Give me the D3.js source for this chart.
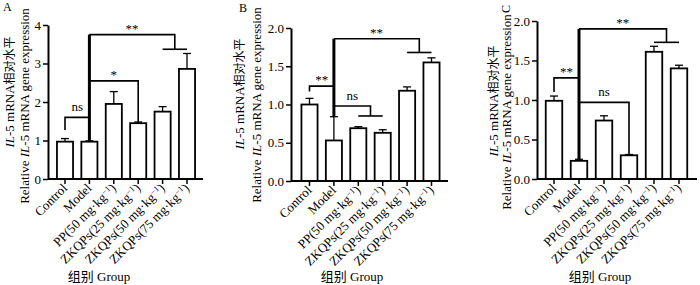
<!DOCTYPE html>
<html>
<head>
<meta charset="utf-8">
<script src="https://cdn.jsdelivr.net/npm/d3@7"></script>
<style>
  body { margin: 0; background: #fff; }
  svg text { font-family: "Liberation Serif", "Times New Roman", "Noto Sans CJK SC", serif; fill: #000; }
</style>
</head>
<body>
<svg id="chart" width="700" height="285"></svg>
<script>
const groups = ["Control", "Model", "PP(50 mg·kg^-1)", "ZKQPs(25 mg·kg^-1)", "ZKQPs(50 mg·kg^-1)", "ZKQPs(75 mg·kg^-1)"];

const valuesA = [0.97, 0.97, 1.95, 1.45, 1.75, 2.86];
const sdA     = [0.08, 0.02, 0.32, 0.03, 0.13, 0.40];
const valuesB = [1.00, 0.53, 0.69, 0.63, 1.18, 1.55];
const sdB     = [0.08, 0.31, 0.02, 0.04, 0.05, 0.06];
const valuesC = [0.99, 0.23, 0.74, 0.30, 1.61, 1.40];
const sdC     = [0.06, 0.02, 0.06, 0.01, 0.07, 0.04];

const ticksA = [0, 1, 2, 3, 4];
const ticksBC = [0, 0.5, 1.0, 1.5, 2.0];

// significance brackets: a -> b (index or pair of indices), bar height y, leg ends
const bracketsA = [
  { a: 0, b: 1, y: 1.60, la: 1.27, lb: null, text: "ns" },
  { a: 1, b: 3, y: 2.55, la: null, lb: 1.48, text: "*" },
  { a: 1, b: [4, 5], y: 3.75, la: null, lb: 3.37, text: "**" }
];
const bracketsB = [
  { a: 0, b: 1, y: 1.24, la: 1.17, lb: null, text: "**" },
  { a: 1, b: [2, 3], y: 0.98, la: null, lb: 0.85, text: "ns" },
  { a: 1, b: [4, 5], y: 1.86, la: null, lb: 1.68, text: "**" }
];
const bracketsC = [
  { a: 0, b: 1, y: 1.28, la: 1.10, lb: null, text: "**" },
  { a: 1, b: 3, y: 0.97, la: null, lb: 0.31, text: "ns" },
  { a: 1, b: [4, 5], y: 1.90, la: null, lb: 1.73, text: "**" }
];

const panels = [
  { letter: "A", values: valuesA, sd: sdA, max: 4, ticks: ticksA, fmt: d3.format("d"), brackets: bracketsA,
    left: 48, right: 203, top: 25, bottom: 179, x0: 52.8, x1: 199.2,
    lab1X: 14, lab2X: 29, lab1Y: 92, lab2Y: 106, groupX: 99 },
  { letter: "B", values: valuesB, sd: sdB, max: 2, ticks: ticksBC, fmt: d3.format(".1f"), brackets: bracketsB,
    left: 291, right: 448, top: 28, bottom: 181, x0: 297.3, x1: 443.7,
    lab1X: 244, lab2X: 261, lab1Y: 94, lab2Y: 105, groupX: 352 },
  { letter: "C", values: valuesC, sd: sdC, max: 2, ticks: ticksBC, fmt: d3.format(".1f"), brackets: bracketsC,
    left: 537, right: 697, top: 21, bottom: 179, x0: 541.5, x1: 691.5,
    lab1X: 498, lab2X: 511, lab1Y: 101, lab2Y: 112, groupX: 600 }
];

const svg = d3.select("#chart");

panels.forEach(p => {
  const g = svg.append("g");

  const x = d3.scaleBand()
    .domain(groups)
    .range([p.x0, p.x1])
    .paddingInner(0.34)
    .paddingOuter(0.17);

  const y = d3.scaleLinear()
    .domain([0, p.max])
    .range([p.bottom, p.top]);

  const cx = i => x(groups[i]) + x.bandwidth() / 2;
  const bx = b => Array.isArray(b) ? (cx(b[0]) + cx(b[1])) / 2 : cx(b);

  // bars
  g.selectAll(".bar")
    .data(p.values)
    .enter()
    .append("rect")
    .attr("x", (d, i) => x(groups[i]))
    .attr("y", d => y(d))
    .attr("width", x.bandwidth())
    .attr("height", d => y(0) - y(d))
    .attr("fill", "#fff")
    .attr("stroke", "#000")
    .attr("stroke-width", 1.8);

  // error bars
  p.values.forEach((v, i) => {
    const top = v + p.sd[i];
    g.append("line")
      .attr("x1", cx(i)).attr("x2", cx(i))
      .attr("y1", y(v)).attr("y2", y(top))
      .attr("stroke", "#000").attr("stroke-width", 1.3);
    g.append("line")
      .attr("x1", cx(i) - 4).attr("x2", cx(i) + 4)
      .attr("y1", y(top)).attr("y2", y(top))
      .attr("stroke", "#000").attr("stroke-width", 1.3);
  });

  // y axis
  const yAxis = g.append("g")
    .attr("transform", `translate(${p.left},0)`)
    .call(d3.axisLeft(y).tickValues(p.ticks).tickFormat(p.fmt).tickSize(5).tickPadding(2).tickSizeOuter(0));
  yAxis.select(".domain").attr("stroke-width", 2);
  yAxis.selectAll(".tick line").attr("stroke-width", 1.5);
  yAxis.selectAll(".tick text").attr("font-size", 13);

  // x axis
  const xAxis = g.append("g")
    .attr("transform", `translate(0,${p.bottom})`)
    .call(d3.axisBottom(x).tickSize(5).tickFormat(""));
  xAxis.select(".domain").remove();
  xAxis.selectAll(".tick line").attr("stroke-width", 1.5);
  g.append("line")
    .attr("x1", p.left).attr("x2", p.right)
    .attr("y1", p.bottom).attr("y2", p.bottom)
    .attr("stroke", "#000").attr("stroke-width", 2);

  // rotated category labels
  groups.forEach((name, i) => {
    const t = g.append("text")
      .attr("transform", `translate(${cx(i) + 3},${p.bottom + 10}) rotate(-45)`)
      .attr("text-anchor", "end")
      .attr("font-size", 13);
    const parts = name.split("^-1");
    t.append("tspan").text(parts[0]);
    if (parts.length > 1) {
      t.append("tspan").attr("dy", -4).attr("font-size", 8.5).text("−1");
      t.append("tspan").attr("dy", 4).text(parts[1]);
    }
  });

  // group title
  g.append("text")
    .attr("x", p.groupX).attr("y", 281)
    .attr("text-anchor", "middle")
    .attr("font-size", 13)
    .text("组别  Group");

  // y labels
  const l1 = g.append("text")
    .attr("transform", `translate(${p.lab1X},${p.lab1Y}) rotate(-90)`)
    .attr("text-anchor", "middle")
    .attr("font-size", 13);
  l1.append("tspan").attr("font-style", "italic").text("IL");
  l1.append("tspan").text("-5 mRNA");
  l1.append("tspan").attr("font-family", "Noto Sans CJK SC").attr("font-size", 12).text("相对水平");

  const l2 = g.append("text")
    .attr("transform", `translate(${p.lab2X},${p.lab2Y}) rotate(-90)`)
    .attr("text-anchor", "middle")
    .attr("font-size", 13);
  l2.append("tspan").text("Relative ");
  l2.append("tspan").attr("font-style", "italic").text("IL");
  l2.append("tspan").text("-5 mRNA gene expression");

  // significance brackets
  const stemTop = d3.max(p.brackets, d => d.y);
  g.append("line")
    .attr("x1", cx(1)).attr("x2", cx(1))
    .attr("y1", y(stemTop)).attr("y2", y(p.values[1] + p.sd[1]))
    .attr("stroke", "#000").attr("stroke-width", 3);

  p.brackets.forEach(b => {
    const xa = cx(b.a), xb = bx(b.b);
    const pts = [];
    if (b.la !== null) pts.push([xa, y(b.la)]);
    pts.push([xa, y(b.y)]);
    pts.push([xb, y(b.y)]);
    if (b.lb !== null) pts.push([xb, y(b.lb)]);
    g.append("path")
      .attr("d", d3.line()(pts))
      .attr("fill", "none")
      .attr("stroke", "#000")
      .attr("stroke-width", 1.6);
    if (Array.isArray(b.b)) {
      g.append("line")
        .attr("x1", cx(b.b[0])).attr("x2", cx(b.b[1]))
        .attr("y1", y(b.lb)).attr("y2", y(b.lb))
        .attr("stroke", "#000").attr("stroke-width", 1.6);
    }
    const isStar = b.text.indexOf("*") >= 0;
    g.append("text")
      .attr("x", (xa + xb) / 2)
      .attr("y", y(b.y) - (isStar ? 2 : 6))
      .attr("text-anchor", "middle")
      .attr("font-size", 13)
      .text(b.text);
  });

  // panel letter
  if (p.letter === "C") {
    g.append("text")
      .attr("transform", "translate(510,9) rotate(-90)")
      .attr("text-anchor", "middle")
      .attr("font-size", 12)
      .text("C");
  } else {
    g.append("text")
      .attr("x", p.letter === "A" ? 3 : 239)
      .attr("y", p.letter === "A" ? 11 : 12)
      .attr("font-size", 12)
      .text(p.letter);
  }
});
</script>
</body>
</html>
